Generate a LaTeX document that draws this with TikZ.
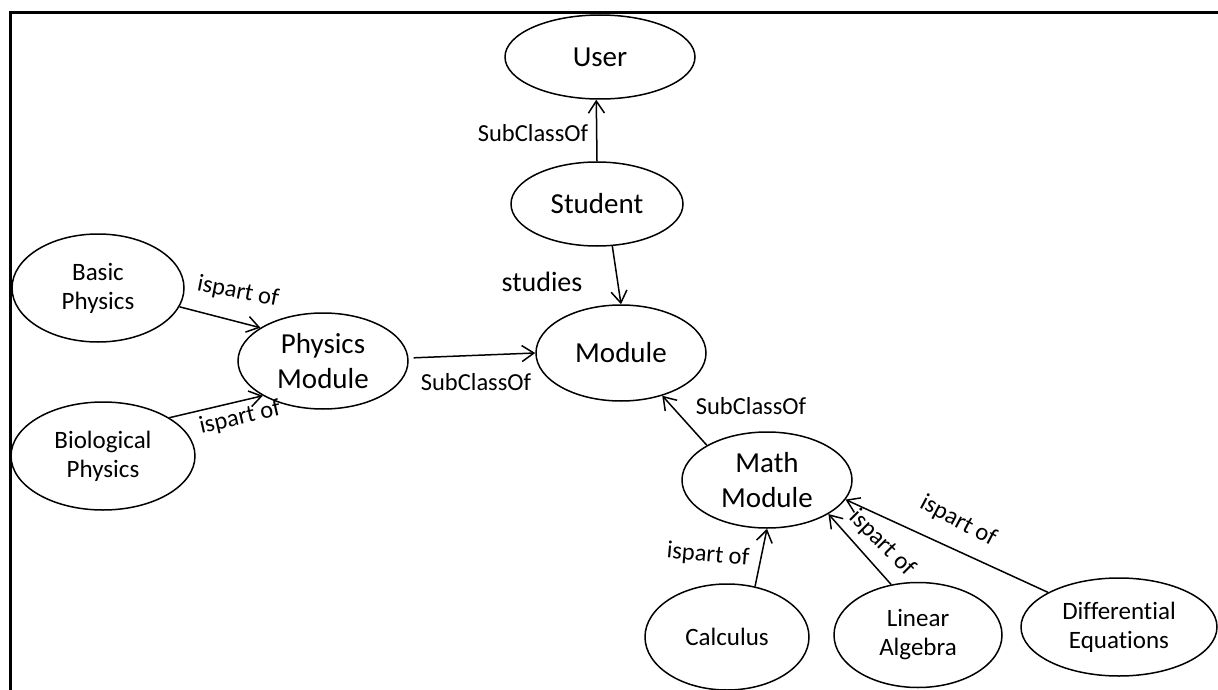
\documentclass[tikz,border=0pt]{standalone}
\usepackage{fontspec}
\setmainfont{Carlito}[Ligatures=NoCommon]
\usetikzlibrary{shapes.geometric,arrows.meta}
\begin{document}
\begin{tikzpicture}[x=1pt,y=-1pt,
  concept/.style={draw, ellipse, line width=1.5pt, inner sep=0pt, align=center},
  big/.style={concept, font=\fontsize{29}{35}\selectfont},
  small/.style={concept, font=\fontsize{25}{29}\selectfont},
  link/.style={line width=1.5pt, -{Straight Barb[length=12pt,width=16pt]}},
  lbl/.style={font=\fontsize{24.5}{29}\selectfont, inner sep=0pt},
  biglbl/.style={font=\fontsize{28}{35}\selectfont, inner sep=0pt},
]
\useasboundingbox (0,0) rectangle (1218,690);
% frame
\draw[line width=3pt] (10,690) -- (10,13) -- (1218,13);

% concepts
\node[big, minimum width=190pt, minimum height=84pt] (user) at (600,57) {User};
\node[big, minimum width=172pt, minimum height=84pt] (student) at (597,204) {Student};
\node[big, minimum width=170pt, minimum height=96pt] (module) at (621,353) {Module};
\node[big, minimum width=170pt, minimum height=96pt] (physics) at (323,361) {Physics\\Module};
\node[big, minimum width=170pt, minimum height=96pt] (math) at (767,480) {Math\\Module};
\node[small, minimum width=172pt, minimum height=108pt] (basic) at (98,288) {Basic\\Physics};
\node[small, minimum width=184pt, minimum height=108pt] (bio) at (103,456) {Biological\\Physics};
\node[small, minimum width=164pt, minimum height=106pt] (calc) at (727,637) {Calculus};
\node[small, minimum width=168pt, minimum height=105pt] (linalg) at (918,635) {Linear\\Algebra};
\node[small, minimum width=196pt, minimum height=98pt] (diffeq) at (1119,627) {Differential\\Equations};

% relations
\draw[link] (student.90) -- (user.-95);
\draw[link] (student.-70) -- (module.90);
\draw[link, shorten <=5pt] (physics.2) -- (module.180);
\draw[link] (math.150) -- (module.-46);
\draw[link] (basic.-13) -- (physics.152);
\draw[link] (bio.30) -- (physics.210);
\draw[link] (calc.61) -- (math.-90);
\draw[link] (linalg.118) -- (math.-29);
\draw[link] (diffeq.154) -- (math.-14);

% relation labels
\node[lbl] (l1) at (533,133) {SubClassOf};
\node[biglbl] (l2) at (542,282) {studies};
\node[lbl] (l3) at (476,382) {SubClassOf};
\node[lbl] (l4) at (751,406) {SubClassOf};
\node[lbl, rotate=-11] (l5) at (238,292) {ispart of};
\node[lbl, rotate=13] (l6) at (240,418) {ispart of};
\node[lbl, rotate=-5] (l7) at (708,555) {ispart of};
\node[lbl, rotate=-45] (l8) at (882,543) {ispart of};
\node[lbl, rotate=-28] (l9) at (958,521) {ispart of};
\end{tikzpicture}
\end{document}
